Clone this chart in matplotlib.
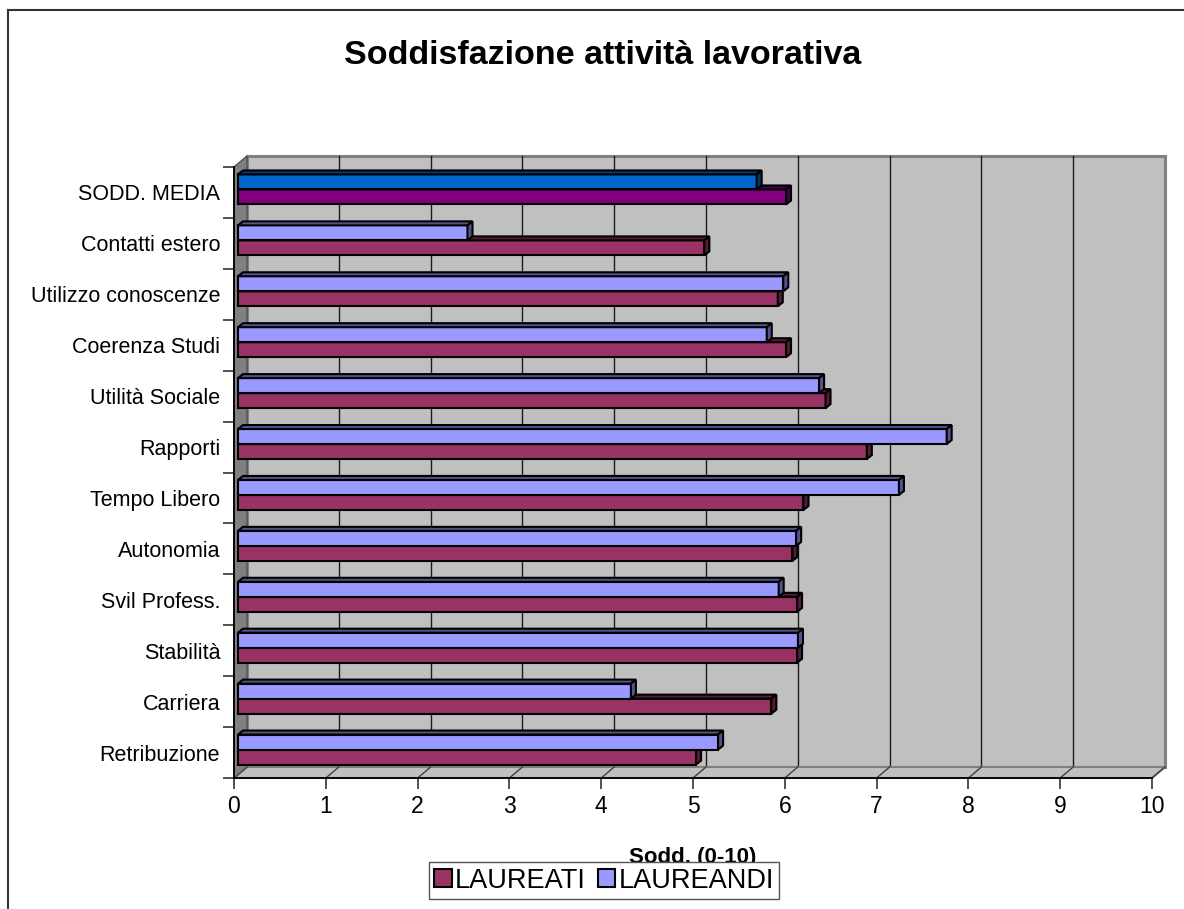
import matplotlib
matplotlib.use('Agg')
import matplotlib.pyplot as plt
from matplotlib.patches import Polygon, Rectangle, Patch
from matplotlib.lines import Line2D
from matplotlib.colors import to_rgb

# categories listed bottom to top
categories = ['Retribuzione', 'Carriera', 'Stabilità', 'Svil Profess.', 'Autonomia',
              'Tempo Libero', 'Rapporti', 'Utilità Sociale', 'Coerenza Studi',
              'Utilizzo conoscenze', 'Contatti estero', 'SODD. MEDIA']
laureati = [4.99, 5.81, 6.09, 6.09, 6.04, 6.16, 6.85, 6.40, 5.97, 5.88, 5.08, 5.97]
laureandi = [5.23, 4.28, 6.10, 5.89, 6.08, 7.20, 7.72, 6.33, 5.76, 5.94, 2.50, 5.65]
x_ticks = list(range(0, 11))

col_laureati = '#993366'
col_laureandi = '#9999FF'
# the overall mean row gets its own colours
col_media_laureati = '#800080'
col_media_laureandi = '#0066CC'

plt.rcParams['font.family'] = ['Liberation Sans', 'DejaVu Sans']

W, H = 1184, 909
fig = plt.figure(figsize=(W / 100, H / 100), dpi=100)

# front plane of the 3d box, in pixels
left_px, right_px, top_px, bottom_px = 234, 1152, 167, 778
ax = fig.add_axes([left_px / W, (H - bottom_px) / H,
                   (right_px - left_px) / W, (bottom_px - top_px) / H])
n = len(categories)
xmax = x_ticks[-1]
ax.set_xlim(0, xmax)
ax.set_ylim(0, n)
ax.patch.set_visible(False)

ux = (right_px - left_px) / xmax   # px per x unit
uy = (bottom_px - top_px) / n       # px per category

# depth offsets (pixels -> data units)
wx, wy = 13 / ux, 11 / uy   # walls
bx, by = 4 / ux, 3 / uy     # plane of the bars
dx, dy = 5 / ux, 4 / uy     # bar thickness


def dark(c, f=0.55):
  return tuple(v * f for v in to_rgb(c))


# back wall
ax.add_patch(Rectangle((wx, wy), xmax, n, facecolor='#C0C0C0', edgecolor='#808080',
                       lw=2.2, clip_on=False, zorder=0.5))
for k in x_ticks[1:-1]:
  ax.plot([k + wx, k + wx], [wy, n + wy], color='#1a1a1a', lw=1.0,
          clip_on=False, zorder=0.6)

# floor
ax.add_patch(Polygon([(0, 0), (xmax, 0), (xmax + wx, wy), (wx, wy)], closed=True,
                     facecolor='#C0C0C0', edgecolor='#808080', lw=1.5,
                     clip_on=False, zorder=0.7))
for k in x_ticks:
  ax.plot([k, k + wx], [0, wy], color='#404040', lw=1.0, clip_on=False, zorder=0.75)

# left wall
ax.add_patch(Polygon([(0, 0), (0, n), (wx, n + wy), (wx, wy)], closed=True,
                     facecolor='#808080', edgecolor='#505050', lw=1.0,
                     clip_on=False, zorder=0.8))

# bars
h = 0.295
mid = [i + 0.5 + by for i in range(n)]
c_lat = [col_laureati] * (n - 1) + [col_media_laureati]
c_and = [col_laureandi] * (n - 1) + [col_media_laureandi]


def depth_faces(y0, y1, v, color, z):
  top = Polygon([(bx, y1), (bx + v, y1), (bx + v + dx, y1 + dy), (bx + dx, y1 + dy)],
                closed=True, facecolor=dark(color), edgecolor='black', lw=1.5,
                joinstyle='miter', clip_on=False, zorder=z)
  side = Polygon([(bx + v, y0), (bx + v + dx, y0 + dy), (bx + v + dx, y1 + dy), (bx + v, y1)],
                 closed=True, facecolor=dark(color), edgecolor='black', lw=1.5,
                 joinstyle='miter', clip_on=False, zorder=z)
  ax.add_patch(top)
  ax.add_patch(side)


ax.barh([m - h / 2 for m in mid], laureati, height=h, left=bx, color=c_lat,
        edgecolor='black', lw=1.5, zorder=3, clip_on=False)
for i in range(n):
  depth_faces(mid[i] - h, mid[i], laureati[i], c_lat[i], 3)

ax.barh([m + h / 2 for m in mid], laureandi, height=h, left=bx, color=c_and,
        edgecolor='black', lw=1.5, zorder=4, clip_on=False)
for i in range(n):
  depth_faces(mid[i], mid[i] + h, laureandi[i], c_and[i], 4)

# axes lines and ticks
for s in ['top', 'right']:
  ax.spines[s].set_visible(False)
ax.spines['left'].set_color('black')
ax.spines['bottom'].set_color('black')
ax.spines['left'].set_linewidth(1.3)
ax.spines['bottom'].set_linewidth(1.3)

ax.set_xticks(x_ticks)
ax.set_xticklabels([str(t) for t in x_ticks], fontsize=16.5)
ax.tick_params(axis='x', direction='out', length=8, width=1.2, color='#333333', pad=4)

ax.set_yticks(range(n + 1))
ax.set_yticklabels([])
ax.set_yticks([i + 0.5 for i in range(n)], minor=True)
ax.set_yticklabels(categories, minor=True, fontsize=15.5)
ax.tick_params(axis='y', which='major', direction='out', length=8, width=1.2, color='#333333')
ax.tick_params(axis='y', which='minor', length=0, pad=10)

# title, axis title and legend
fig.text(602.5 / W, 1 - 56 / H, 'Soddisfazione attività lavorativa', fontsize=24.5,
         fontweight='bold', ha='center', va='center')
fig.text(693 / W, 1 - 857 / H, 'Sodd. (0-10)', fontsize=16, fontweight='bold',
         ha='center', va='center')

handles = [Patch(facecolor=col_laureati, edgecolor='black', lw=1.5, label='LAUREATI'),
           Patch(facecolor=col_laureandi, edgecolor='black', lw=1.5, label='LAUREANDI')]
leg = fig.legend(handles=handles, loc='center', bbox_to_anchor=(604 / W, 1 - 880.5 / H),
                 ncol=2, fontsize=19.5, frameon=True, fancybox=False, framealpha=1,
                 edgecolor='#555555', handlelength=0.65, handleheight=0.65,
                 handletextpad=0.12, columnspacing=0.45, borderpad=0.2, borderaxespad=0)
leg.get_frame().set_linewidth(1.0)

# chart border
fig.add_artist(Line2D([7.5 / W, 7.5 / W], [0, 1 - 10 / H], transform=fig.transFigure,
                      color='#333333', lw=1.5))
fig.add_artist(Line2D([7.5 / W, 1], [1 - 10 / H, 1 - 10 / H], transform=fig.transFigure,
                      color='#333333', lw=1.5))

fig.savefig('out.png', dpi=100)
